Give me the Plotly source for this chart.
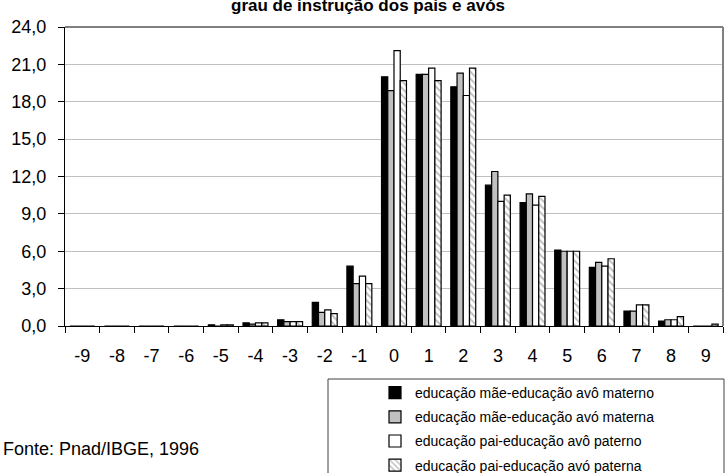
import plotly.graph_objects as go

categories = [str(v) for v in range(-9, 10)]

mae_avo_materno = [0, 0, 0, 0, 0.1, 0.25, 0.5, 1.9, 4.8, 20.0, 20.2, 19.2, 11.3, 9.9, 6.1, 4.7, 1.2, 0.4, 0]
mae_avo_materna = [0, 0, 0, 0, 0, 0.15, 0.35, 1.1, 3.4, 18.9, 20.2, 20.3, 12.4, 10.6, 6.0, 5.1, 1.2, 0.5, 0]
pai_avo_paterno = [0, 0, 0, 0, 0.1, 0.25, 0.35, 1.3, 4.0, 22.1, 20.7, 18.5, 10.0, 9.7, 6.0, 4.8, 1.7, 0.5, 0]
pai_avo_paterna = [0, 0, 0, 0, 0.1, 0.25, 0.35, 1.0, 3.4, 19.7, 19.7, 20.7, 10.5, 10.4, 6.0, 5.4, 1.7, 0.75, 0.15]

names = [
    "educação mãe-educação avô materno",
    "educação mãe-educação avó materna",
    "educação pai-educação avô paterno",
    "educação pai-educação avó paterna",
]

y_ticks = [0, 3, 6, 9, 12, 15, 18, 21, 24]

W, H = 725, 473
L, R, T, B = 65, 2, 27, 147
PW = W - L - R
PH = H - T - B


def px_x(p):
    return (p - L) / PW


def px_y(p):
    return (H - B - p) / PH


FONT = "Liberation Sans, Arial, sans-serif"
line = dict(color="black", width=1.2)

fig = go.Figure()
fig.add_trace(go.Bar(x=categories, y=mae_avo_materno, name=names[0], legendgroup="a",
                     marker=dict(color="black", line=line)))
fig.add_trace(go.Bar(x=categories, y=mae_avo_materna, name=names[1], legendgroup="b",
                     marker=dict(color="#c0c0c0", line=line)))
fig.add_trace(go.Bar(x=categories, y=pai_avo_paterno, name=names[2], legendgroup="c",
                     marker=dict(color="white", line=line)))
fig.add_trace(go.Bar(x=categories, y=pai_avo_paterna, name=names[3], legendgroup="d",
                     marker=dict(color="white", line=line,
                                 pattern=dict(shape="\\", fgcolor="#7a7a7a", bgcolor="white",
                                              size=5, solidity=0.35))))

fig.update_layout(
    width=W, height=H,
    margin=dict(l=L, r=R, t=T, b=B, pad=0, autoexpand=False),
    paper_bgcolor="white", plot_bgcolor="white",
    barmode="group", bargap=0.28, bargroupgap=0,
    separators=",.",
    font=dict(family=FONT, size=18, color="black"),
    showlegend=True,
    legend=dict(x=px_x(375), y=px_y(377), xanchor="left", yanchor="top",
                font=dict(size=14, family=FONT), traceorder="grouped",
                tracegroupgap=3, bgcolor="rgba(0,0,0,0)", borderwidth=0, itemwidth=30),
    xaxis=dict(type="category", tickson="boundaries", ticks="outside", ticklen=6,
               tickcolor="black", showline=True, linecolor="black", linewidth=1,
               showgrid=False, tickfont=dict(size=18), ticklabelstandoff=13,
               automargin=False, fixedrange=True),
    yaxis=dict(range=[0, 24], tickvals=y_ticks, tickformat=".1f", ticks="outside", ticklen=6,
               tickcolor="black", showline=True, linecolor="black", linewidth=1,
               showgrid=True, gridcolor="#c0c0c0", gridwidth=1, zeroline=False,
               tickfont=dict(size=18), ticklabelstandoff=8, automargin=False, fixedrange=True),
    shapes=[
        dict(type="line", xref="paper", yref="paper", x0=0, x1=1, y0=1, y1=1,
             line=dict(color="black", width=1)),
        dict(type="line", xref="paper", yref="paper", x0=1, x1=1, y0=0, y1=1,
             line=dict(color="#808080", width=2)),
        dict(type="rect", xref="paper", yref="paper", x0=px_x(328), x1=px_x(724),
             y0=px_y(379), y1=px_y(490), line=dict(color="#404040", width=1),
             fillcolor="rgba(0,0,0,0)"),
    ],
    annotations=[
        dict(text="<b>grau de instrução dos pais e avós</b>", xref="paper", yref="paper",
             x=px_x(368), y=px_y(5), xanchor="center", yanchor="middle", showarrow=False,
             font=dict(size=17, family=FONT, color="black")),
        dict(text="Fonte: Pnad/IBGE, 1996", xref="paper", yref="paper",
             x=px_x(1), y=px_y(449), xanchor="left", yanchor="middle", showarrow=False,
             font=dict(size=18, family=FONT, color="black")),
    ],
)

fig.write_html(
    "out.html",
    config={"displayModeBar": False},
    post_script="document.body.style.margin='0px';document.body.style.padding='0px';"
                "document.body.style.overflow='hidden';",
)
